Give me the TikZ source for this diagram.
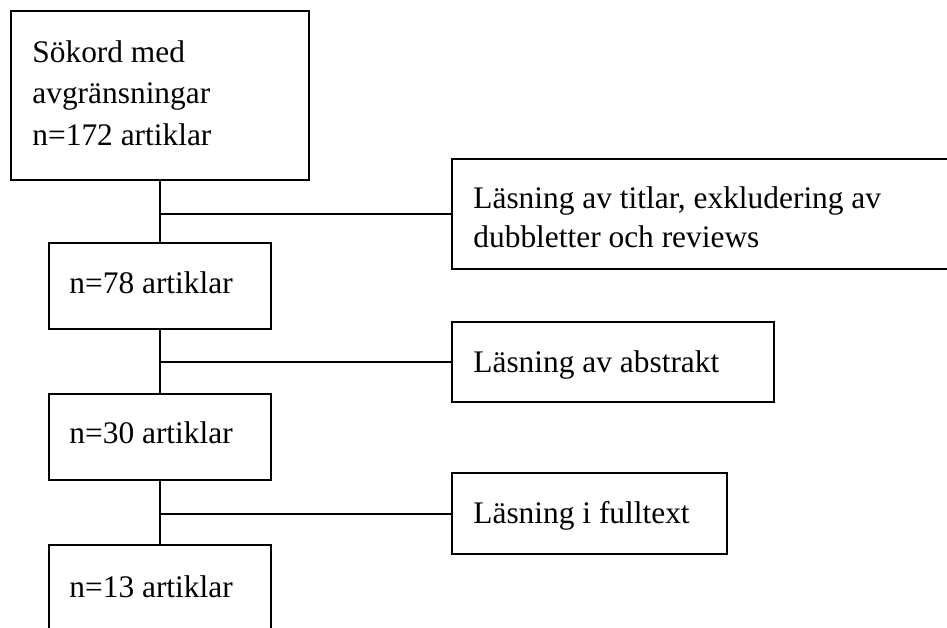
\documentclass[tikz,border=0pt]{standalone}
\usepackage{fontspec}
\setmainfont{Liberation Serif}
\usetikzlibrary{fit}
\begin{document}
\begin{tikzpicture}[x=0.5pt,y=-0.5pt,
  box/.style={draw=black, line width=1pt, inner sep=0pt, rectangle},
  lbl/.style={anchor=base west, inner sep=0pt, font=\fontsize{15.7pt}{19pt}\selectfont},
  conn/.style={draw=black, line width=1pt}]
\useasboundingbox (0,0) rectangle (947,627);
\clip (0,0) rectangle (947,627);
% main column boxes
\node[box, fit={(11,11)(309,180)}] (b1) {};
\node[box, fit={(49,243)(271,329)}] (b2) {};
\node[box, fit={(49,394)(271,480)}] (b3) {};
\node[box, fit={(49,545)(271,640)}] (b4) {};
% side boxes
\node[box, fit={(452,159)(960,269)}] (t1) {};
\node[box, fit={(452,322)(774,402)}] (t2) {};
\node[box, fit={(452,473)(727,554)}] (t3) {};
% texts
\node[lbl] (b1a) at (32,62) {Sökord med};
\node[lbl] (b1b) at (32,103) {avgränsningar};
\node[lbl] (b1c) at (32,145) {n=172 artiklar};
\node[lbl] (b2a) at (69,293) {n=78 artiklar};
\node[lbl] (b3a) at (69,443) {n=30 artiklar};
\node[lbl] (b4a) at (69,597) {n=13 artiklar};
\node[lbl] (t1a) at (473,208) {Läsning av titlar, exkludering av};
\node[lbl] (t1b) at (473,247) {dubbletter och reviews};
\node[lbl] (t2a) at (473,372) {Läsning av abstrakt};
\node[lbl] (t3a) at (473,523) {Läsning i fulltext};
% connectors
\draw[conn] (b1.south) -- (b2.north);
\draw[conn] (b2.south) -- (b3.north);
\draw[conn] (b3.south) -- (b4.north);
\draw[conn] (t1.west -| b1.south) -- (t1.west);
\draw[conn] (t2.west -| b2.south) -- (t2.west);
\draw[conn] (t3.west -| b3.south) -- (t3.west);
\end{tikzpicture}
\end{document}
